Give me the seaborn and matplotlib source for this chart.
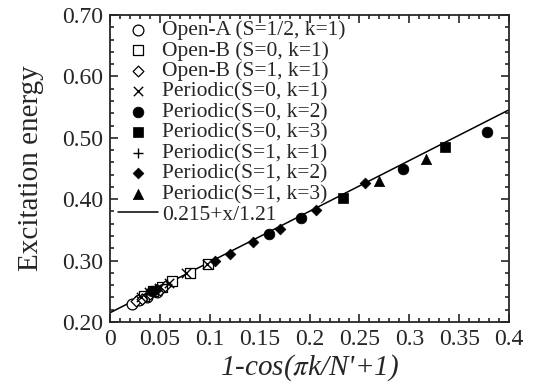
import numpy as np
import pandas as pd
import seaborn as sns
import matplotlib.pyplot as plt
from matplotlib.ticker import MultipleLocator

# values
openA_x = [0.0224, 0.029, 0.037, 0.047]
openA_y = [0.229, 0.235, 0.241, 0.249]
openB0_x = [0.034, 0.043, 0.052, 0.0625, 0.080, 0.098]
openB0_y = [0.243, 0.250, 0.257, 0.266, 0.279, 0.295]
openB1_x = [0.026, 0.032, 0.040, 0.050, 0.0555]
openB1_y = [0.234, 0.238, 0.245, 0.252, 0.258]
per01_x = [0.031, 0.039, 0.049, 0.0595, 0.0759, 0.097]
per01_y = [0.241, 0.248, 0.256, 0.264, 0.279, 0.295]
per02_x = [0.042, 0.159, 0.1915, 0.2934, 0.3776]
per02_y = [0.250, 0.344, 0.369, 0.449, 0.509]
per03_x = [0.2333, 0.3358]
per03_y = [0.402, 0.485]
per11_x = [0.036, 0.045, 0.057]
per11_y = [0.246, 0.253, 0.262]
per12_x = [0.047, 0.105, 0.1206, 0.143, 0.1704, 0.2068, 0.2556]
per12_y = [0.254, 0.299, 0.311, 0.330, 0.351, 0.382, 0.426]
per13_x = [0.270, 0.317]
per13_y = [0.430, 0.465]

fit_a = 0.215
fit_b = 1.21

xtick_labels = ['0', '0.05', '0.1', '0.15', '0.2', '0.25', '0.3', '0.35', '0.4']
ytick_labels = ['0.20', '0.30', '0.40', '0.50', '0.60', '0.70']

series = [
    ('Open-A (S=1/2, k=1)', openA_x, openA_y, 'o', False),
    ('Open-B (S=0, k=1)', openB0_x, openB0_y, 's', False),
    ('Open-B (S=1, k=1)', openB1_x, openB1_y, 'D', False),
    ('Periodic(S=0, k=1)', per01_x, per01_y, 'x', True),
    ('Periodic(S=0, k=2)', per02_x, per02_y, 'o', True),
    ('Periodic(S=0, k=3)', per03_x, per03_y, 's', True),
    ('Periodic(S=1, k=1)', per11_x, per11_y, '+', True),
    ('Periodic(S=1, k=2)', per12_x, per12_y, 'D', True),
    ('Periodic(S=1, k=3)', per13_x, per13_y, '^', True),
]

sns.set_style('ticks')
plt.rcParams['font.family'] = ['Liberation Serif', 'DejaVu Serif']
plt.rcParams['mathtext.fontset'] = 'stix'

fig = plt.figure(figsize=(5.45, 3.86), dpi=100)
ax = fig.add_axes([0.202, 0.166, 0.732, 0.795])

sizes = {'o': 60, 's': 50, 'D': 30, 'x': 45, '+': 55, '^': 55}
for label, xs, ys, m, filled in series:
    df = pd.DataFrame({'x': xs, 'y': ys})
    if m in ('x', '+'):
        sns.scatterplot(data=df, x='x', y='y', marker=m, s=sizes[m], color='black',
                        linewidth=1.0, label=label, ax=ax, zorder=3)
    elif filled:
        sns.scatterplot(data=df, x='x', y='y', marker=m, s=sizes[m], color='black',
                        edgecolor='black', linewidth=0.5, label=label, ax=ax, zorder=3)
    else:
        sns.scatterplot(data=df, x='x', y='y', marker=m, s=sizes[m], facecolor='white',
                        edgecolor='black', linewidth=0.9, label=label, ax=ax, zorder=3)

line_x = np.array([0.0, 0.4])
line_df = pd.DataFrame({'x': line_x, 'y': fit_a + line_x / fit_b})
sns.lineplot(data=line_df, x='x', y='y', color='black', linewidth=1.1,
             label='0.215+x/1.21', ax=ax, zorder=2)

ax.set_xlim(0, 0.4)
ax.set_ylim(0.2, 0.7)
ax.xaxis.set_minor_locator(MultipleLocator(0.01))
ax.yaxis.set_minor_locator(MultipleLocator(0.02))
ax.set_xticks(np.arange(0, 0.401, 0.05))
ax.set_xticklabels(xtick_labels)
ax.set_yticks(np.arange(0.2, 0.701, 0.1))
ax.set_yticklabels(ytick_labels)
ax.tick_params(which='both', direction='in', top=True, right=True, labelsize=17, width=1.2)
ax.tick_params(which='major', length=6, pad=5)
ax.tick_params(which='minor', length=3)
for sp in ax.spines.values():
    sp.set_linewidth(1.3)

ax.set_xlabel(r"1-cos($\pi$k/N'+1)", fontsize=21, style='italic', labelpad=2)
ax.set_ylabel('Excitation energy', fontsize=21, labelpad=13)

ax.legend(loc='upper left', bbox_to_anchor=(-0.012, 1.025), frameon=False, fontsize=15.5,
          handlelength=1.85, handletextpad=0.2, labelspacing=0.02, borderaxespad=0.2)

fig.savefig('out.png', dpi=100)
